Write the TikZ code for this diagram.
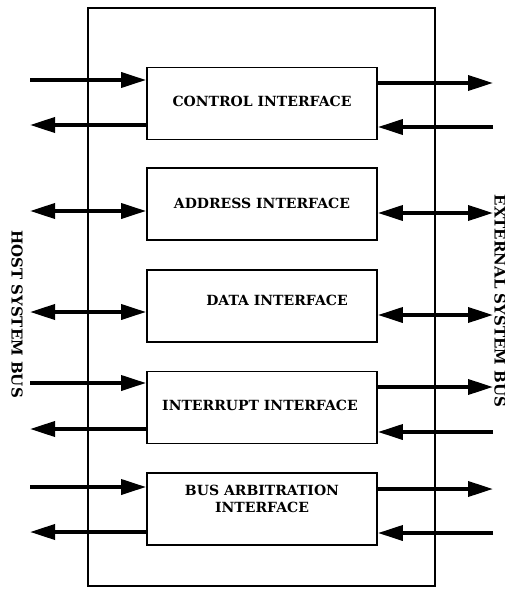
\documentclass[tikz,border=0pt]{standalone}
\usepackage{fontspec}
\setmainfont{DejaVu Serif}
\usetikzlibrary{arrows.meta}
\begin{document}
\begin{tikzpicture}[x=1pt,y=-1pt,
  unit/.style={draw,line width=1.8pt,minimum width=230pt,minimum height=72pt,inner sep=0pt},
  lbl/.style={font=\bfseries\fontsize{14}{17}\selectfont,align=center,inner sep=0pt},
  bus/.style={font=\bfseries\fontsize{15}{18}\selectfont,rotate=-90,inner sep=0pt},
  sig/.style={line width=3.6pt,-{Triangle[length=25pt,width=15pt]}},
  bidi/.style={line width=3.6pt,{Triangle[length=25pt,width=15pt]}-{Triangle[length=25pt,width=15pt]}}]
\useasboundingbox (0,0) rectangle (505,591);
% enclosing controller outline
\draw[line width=1.6pt] (88,8) rectangle (435,586);
% interface blocks
\node[unit] (ctl) at (262,103.5) {};
\node[unit] (adr) at (262,204) {};
\node[unit] (dat) at (262,306) {};
\node[unit] (irq) at (262,407.5) {};
\node[unit] (arb) at (262,509) {};
\node[lbl] (ctlT) at (262,101) {CONTROL INTERFACE};
\node[lbl] (adrT) at (262,203) {ADDRESS INTERFACE};
\node[lbl] (datT) at (277,300) {DATA INTERFACE};
\node[lbl] (irqT) at (260,405) {INTERRUPT INTERFACE};
\node[lbl] (arbT) at (262,499) {BUS ARBITRATION\\INTERFACE};
% bus labels
\node[bus] (host) at (17,314) {HOST SYSTEM BUS};
\node[bus] (ext) at (500,301) {EXTERNAL SYSTEM BUS};
% host-side signal ends
\coordinate (h1) at (30,80);  \coordinate (h2) at (30,125);
\coordinate (h3) at (30,211); \coordinate (h4) at (30,312);
\coordinate (h5) at (30,383); \coordinate (h6) at (30,429);
\coordinate (h7) at (30,487); \coordinate (h8) at (30,532);
% external-side signal ends
\coordinate (e1) at (493,83);  \coordinate (e2) at (493,127);
\coordinate (e3) at (493,213); \coordinate (e4) at (493,315);
\coordinate (e5) at (493,387); \coordinate (e6) at (493,432);
\coordinate (e7) at (493,489); \coordinate (e8) at (493,533);
% host side
\draw[sig] (h1) -- (h1 -| ctl.west);
\draw[sig] (h2 -| ctl.west) -- (h2);
\draw[bidi] (h3) -- (h3 -| adr.west);
\draw[bidi] (h4) -- (h4 -| dat.west);
\draw[sig] (h5) -- (h5 -| irq.west);
\draw[sig] (h6 -| irq.west) -- (h6);
\draw[sig] (h7) -- (h7 -| arb.west);
\draw[sig] (h8 -| arb.west) -- (h8);
% external side
\draw[sig] (e1 -| ctl.east) -- (e1);
\draw[sig] (e2) -- (e2 -| ctl.east);
\draw[bidi] (e3 -| adr.east) -- (e3);
\draw[bidi] (e4 -| dat.east) -- (e4);
\draw[sig] (e5 -| irq.east) -- (e5);
\draw[sig] (e6) -- (e6 -| irq.east);
\draw[sig] (e7 -| arb.east) -- (e7);
\draw[sig] (e8) -- (e8 -| arb.east);
\end{tikzpicture}
\end{document}
